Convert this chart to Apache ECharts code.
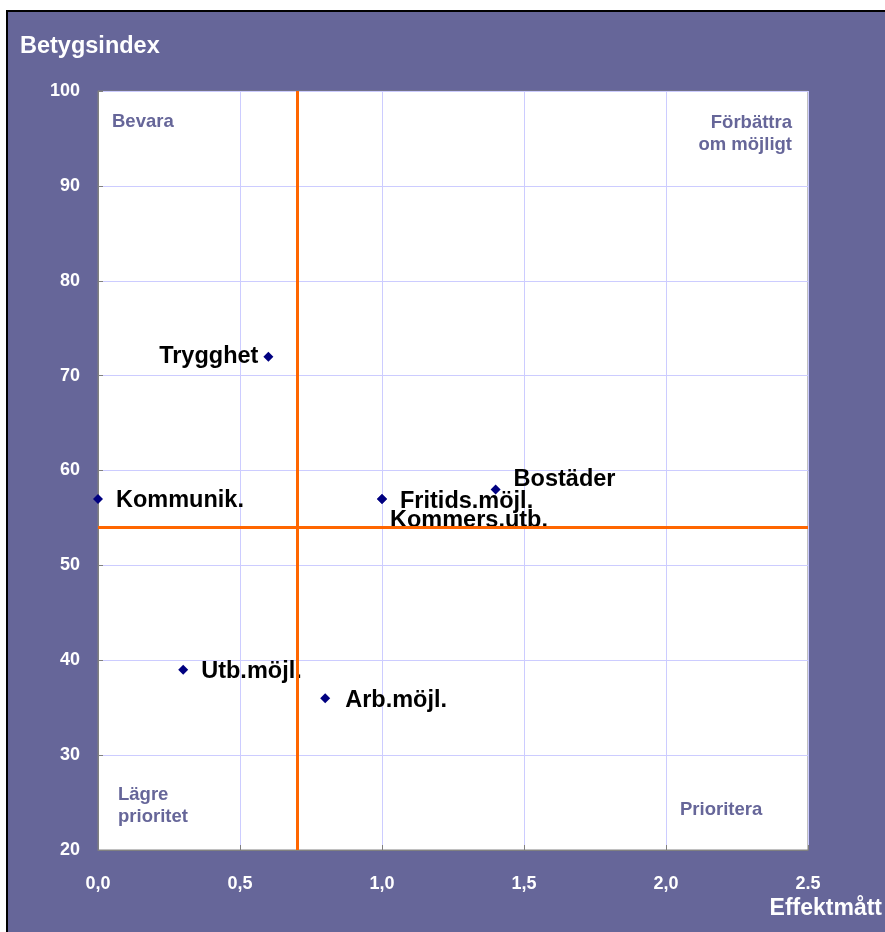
<!DOCTYPE html>
<html><head><meta charset="utf-8">
<script src="https://cdn.jsdelivr.net/npm/echarts@6/dist/echarts.min.js"></script>
<style>html,body{margin:0;padding:0;background:#fff}#c{width:885px;height:932px}</style>
</head><body><div id="c"></div>
<script>
var names = ['Trygghet','Kommunik.','Fritids.möjl.','Kommers.utb.','Bostäder','Utb.möjl.','Arb.möjl.'];
var effekt = [0.6, 0.0, 1.0, 1.0, 1.4, 0.3, 0.8];
var betyg = [72, 57, 57, 57, 58, 39, 36];
var xTickLabels = ['0,0','0,5','1,0','1,5','2,0','2.5'];
var refX = 0.7, refY = 54;

var labelCfg = {
  'Trygghet': {position:'left', offset:[0,0]},
  'Kommunik.': {position:'right', offset:[8,2]},
  'Fritids.möjl.': {position:'right', offset:[8,3]},
  'Kommers.utb.': {position:'right', offset:[-2,22]},
  'Bostäder': {position:'right', offset:[8,-10]},
  'Utb.möjl.': {position:'right', offset:[8,2]},
  'Arb.möjl.': {position:'right', offset:[10,2]}
};
var data = names.map(function(n,i){
  var c = labelCfg[n];
  return {value:[effekt[i], betyg[i]], name:n, label:{position:c.position, offset:c.offset}};
});
var chart = echarts.init(document.getElementById('c'));
var qStyle = {fill:'#666699', font:'bold 18.5px Arial, "Liberation Sans", sans-serif'};
chart.setOption({
  backgroundColor:'#ffffff',
  animation:false,
  graphic:[
    {type:'rect', z:-10, shape:{x:7, y:11, width:880, height:925}, style:{fill:'#666699', stroke:'#000', lineWidth:2}},
    {type:'text', left:20, top:35, style:{text:'Betygsindex', fill:'#fff', font:'bold 23.5px Arial, "Liberation Sans", sans-serif'}},
    {type:'text', right:3, top:897, style:{text:'Effektmått', fill:'#fff', font:'bold 23px Arial, "Liberation Sans", sans-serif'}},
    {type:'text', left:112, top:112, z:5, style:Object.assign({text:'Bevara'}, qStyle)},
    {type:'text', right:93, top:113, z:5, style:Object.assign({text:'Förbättra'}, qStyle)},
    {type:'text', right:93, top:135, z:5, style:Object.assign({text:'om möjligt'}, qStyle)},
    {type:'text', left:118, top:784, z:5, style:Object.assign({text:'Lägre\nprioritet', lineHeight:22}, qStyle)},
    {type:'text', left:680, top:800, z:5, style:Object.assign({text:'Prioritera'}, qStyle)}
  ],
  grid:{left:98, top:91, right:77, bottom:82, show:true, backgroundColor:'#fff', borderColor:'#808080', borderWidth:1},
  xAxis:{type:'value', min:0, max:2.5, interval:0.5,
    axisLine:{show:true, lineStyle:{color:'#808080', width:1}},
    axisTick:{show:true, inside:true, length:5, lineStyle:{color:'#808080'}},
    splitLine:{show:true, lineStyle:{color:'#ccccff', width:1}},
    axisLabel:{color:'#fff', fontWeight:'bold', fontSize:18, fontFamily:'Arial', margin:25,
      formatter:function(v){return xTickLabels[Math.round(v/0.5)];}}
  },
  yAxis:{type:'value', min:20, max:100, interval:10,
    axisLine:{show:true, lineStyle:{color:'#808080', width:1}},
    axisTick:{show:true, inside:true, length:5, lineStyle:{color:'#808080'}},
    splitLine:{show:true, lineStyle:{color:'#ccccff', width:1}},
    axisLabel:{color:'#fff', fontWeight:'bold', fontSize:18, fontFamily:'Arial', margin:18}
  },
  series:[{
    type:'scatter', symbol:'diamond', symbolSize:10, clip:false,
    itemStyle:{color:'#000080', opacity:1},
    label:{show:true, formatter:'{b}', color:'#000', fontWeight:'bold', fontSize:23.5, fontFamily:'Arial'},
    data:data,
    markLine:{silent:true, symbol:'none', label:{show:false},
      lineStyle:{color:'#ff6600', width:3, type:'solid', opacity:1},
      data:[{xAxis:refX},{yAxis:refY}]},
    z:3
  }]
});
</script></body></html>
